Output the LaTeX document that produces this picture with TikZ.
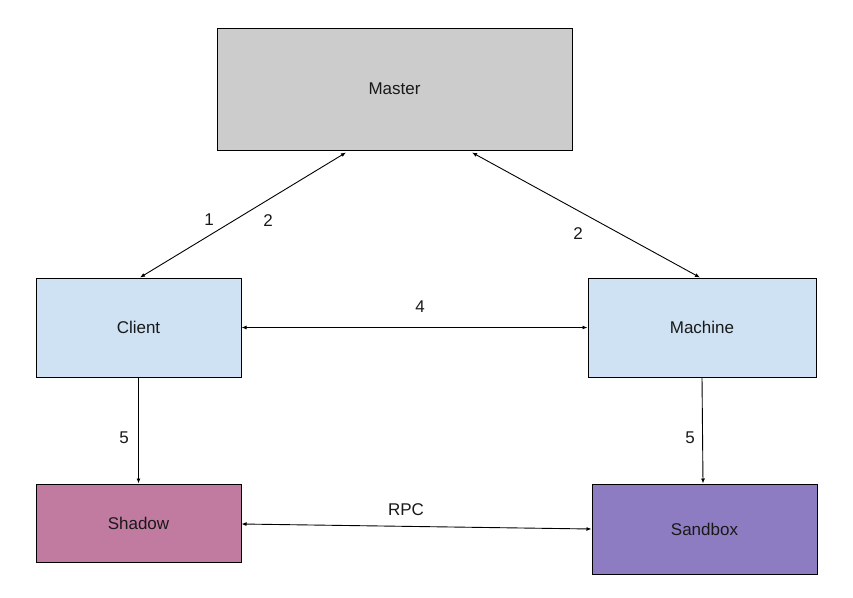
\documentclass[tikz,border=0pt]{standalone}
\usepackage{fontspec}
\setmainfont{Liberation Sans}
\usetikzlibrary{arrows.meta}
\definecolor{mastergray}{HTML}{CCCCCC}
\definecolor{lightblue}{HTML}{CFE2F3}
\definecolor{shadowpink}{HTML}{C27BA0}
\definecolor{sandpurple}{HTML}{8E7CC3}
\begin{document}
\begin{tikzpicture}[x=1pt,y=-1pt,
  box/.style={draw=black, line width=1pt, inner sep=0pt, font=\fontsize{17}{20}\selectfont, text=black!90},
  lbl/.style={font=\fontsize{17}{20}\selectfont, text=black!90, inner sep=0pt},
  conn/.style={line width=0.9pt, {Latex[length=5pt,width=4pt]}-{Latex[length=5pt,width=4pt]}},
  oneway/.style={line width=0.9pt, -{Latex[length=5pt,width=4pt]}}]
\useasboundingbox[fill=white] (0,0) rectangle (853,597);
\node[box, fill=mastergray, minimum width=355pt, minimum height=122pt] (master) at (394.5,89) {Master};
\node[box, fill=lightblue, minimum width=205pt, minimum height=99pt] (client) at (138.5,327.5) {Client};
\node[box, fill=lightblue, minimum width=228pt, minimum height=99pt] (machine) at (702,327.5) {Machine};
\node[box, fill=shadowpink, minimum width=205pt, minimum height=78pt] (shadow) at (138.5,523) {Shadow};
\node[box, fill=sandpurple, minimum width=225pt, minimum height=90pt] (sandbox) at (704.5,529) {Sandbox};
\draw[conn] ([xshift=1.5pt]client.north) -- ([xshift=-48.5pt,yshift=-2pt]master.south);
\draw[conn] ([xshift=77.5pt,yshift=-2pt]master.south) -- ([xshift=-2pt]machine.north);
\draw[conn] (client.east) -- (machine.west);
\draw[oneway] (client.south) -- (shadow.north);
\draw[oneway] (machine.south) -- ([xshift=-1.5pt]sandbox.north);
\draw[conn] ([yshift=-1pt]shadow.east) -- (sandbox.west);
\node[lbl] (l1) at (209,220) {1};
\node[lbl] (l2a) at (268,221) {2};
\node[lbl] (l2b) at (578,234) {2};
\node[lbl] (l4) at (420,307) {4};
\node[lbl] (l5a) at (124,438) {5};
\node[lbl] (l5b) at (690,438) {5};
\node[lbl] (lrpc) at (406,510) {RPC};
\end{tikzpicture}
\end{document}
